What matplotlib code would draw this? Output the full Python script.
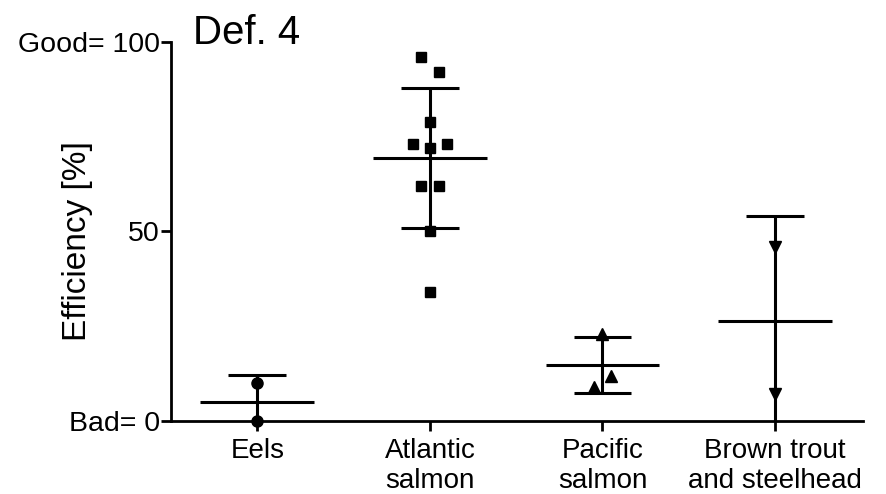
import numpy as np
import matplotlib
matplotlib.use("Agg")
import matplotlib.pyplot as plt

plt.rcParams['font.family'] = ['Liberation Sans', 'DejaVu Sans']

categories = ["Eels", "Atlantic\nsalmon", "Pacific\nsalmon", "Brown trout\nand steelhead"]
eels = [10, 0]
atlantic = [96, 92, 79, 73, 72, 73, 62, 62, 50, 34]
pacific = [23, 12, 9]
brown = [46, 7]
groups = [eels, atlantic, pacific, brown]

jitter_eels = [0, 0]
jitter_atlantic = [-0.05, 0.05, 0, -0.1, 0, 0.1, -0.05, 0.05, 0, 0]
jitter_pacific = [0, 0.05, -0.05]
jitter_brown = [0, 0]
jitters = [jitter_eels, jitter_atlantic, jitter_pacific, jitter_brown]

markers = ['o', 's', '^', 'v']
msizes = [8, 7.7, 8.4, 8.4]

yticks = [0, 50, 100]
yticklabels = ["Bad= 0", "50", "Good= 100"]

fig = plt.figure(figsize=(8.87, 4.94), dpi=100)
ax = fig.add_axes([0.1928, 0.1478, 0.7802, 0.7672])

lw = 2.2
for i, (vals, jit, m, ms) in enumerate(zip(groups, jitters, markers, msizes)):
    x = i + 1
    v = np.array(vals, dtype=float)
    mean = v.mean()
    sd = v.std(ddof=1)
    ax.vlines(x, mean - sd, mean + sd, color='black', lw=lw, zorder=2)
    ax.hlines(mean, x - 0.33, x + 0.33, color='black', lw=lw, zorder=2)
    ax.hlines([mean - sd, mean + sd], x - 0.167, x + 0.167, color='black', lw=lw, zorder=2)
    ax.plot(x + np.array(jit), v, linestyle='none', marker=m, ms=ms,
            color='black', clip_on=False, zorder=3)

ax.set_xlim(0.5, 4.51)
ax.set_ylim(0, 100)
ax.set_xticks(range(1, 5))
ax.set_xticklabels(categories, fontsize=20, linespacing=1.2)
ax.set_yticks(yticks)
ax.set_yticklabels(yticklabels, fontsize=20.5)
ax.tick_params(axis='both', direction='out', width=2, color='black')
ax.tick_params(axis='x', length=7, pad=5)
ax.tick_params(axis='y', length=7, pad=1)

for s in ['top', 'right']:
    ax.spines[s].set_visible(False)
for s in ['left', 'bottom']:
    ax.spines[s].set_linewidth(2.0)

fig.text(78 / 887, 1 - 241 / 494, "Efficiency [%]", fontsize=24, rotation=90,
         ha='center', va='center')
fig.text(193 / 887, 1 - 44 / 494, "Def. 4", fontsize=29, ha='left', va='baseline')

fig.savefig("out.png", dpi=100)
